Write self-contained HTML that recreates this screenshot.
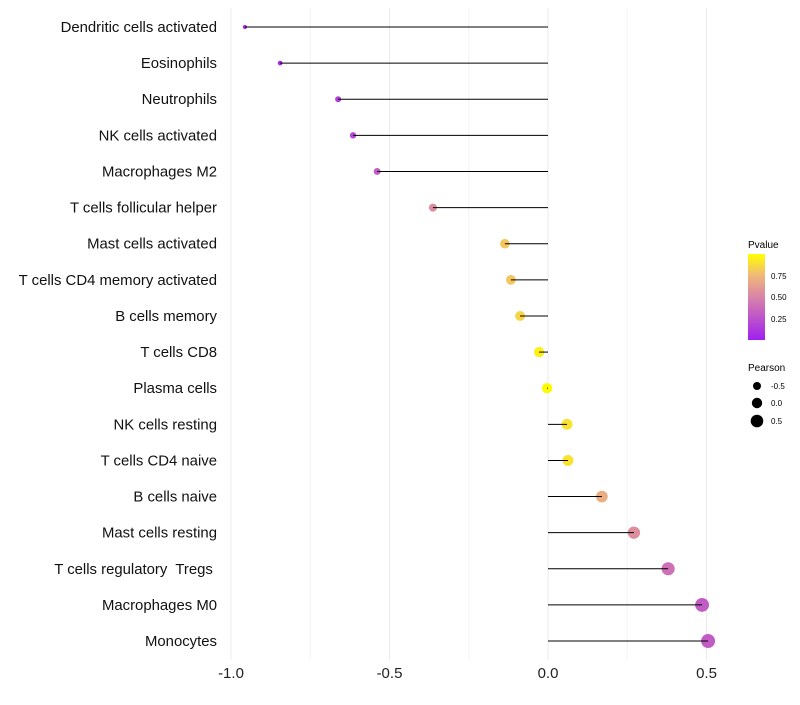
<!DOCTYPE html>
<html><head><meta charset="utf-8"><style>
body{margin:0;background:#fff;}
svg text{font-family:"Liberation Sans",sans-serif;white-space:pre;}
</style></head><body>
<svg id="c" width="800" height="700">
<defs><linearGradient id="pg" x1="0" y1="1" x2="0" y2="0">
<stop offset="0" stop-color="#a020f0"/><stop offset="0.5" stop-color="#d884a8"/><stop offset="0.75" stop-color="#f0b878"/><stop offset="1" stop-color="#ffff00"/></linearGradient></defs>
<g id="grid"></g><g id="dots"></g><g id="marks"></g><g id="labels"></g>
<g>
<text x="748" y="248" font-size="10">Pvalue</text>
<rect x="748" y="254" width="17" height="86" fill="url(#pg)"/>
<text x="771" y="279" font-size="8">0.75</text>
<text x="771" y="300" font-size="8">0.50</text>
<text x="771" y="322" font-size="8">0.25</text>
<text x="748" y="371" font-size="10">Pearson</text>
<circle cx="757" cy="386" r="4"/><text x="771" y="389" font-size="8">-0.5</text>
<circle cx="757" cy="403" r="5.2"/><text x="771" y="406" font-size="8">0.0</text>
<circle cx="757" cy="421" r="6.3"/><text x="771" y="424" font-size="8">0.5</text>
</g>
</svg>
<script>
const categories=["Dendritic cells activated","Eosinophils","Neutrophils","NK cells activated","Macrophages M2","T cells follicular helper","Mast cells activated","T cells CD4 memory activated","B cells memory","T cells CD8","Plasma cells","NK cells resting","T cells CD4 naive","B cells naive","Mast cells resting","T cells regulatory  Tregs ","Macrophages M0","Monocytes"];
const pearson=[-0.956,-0.845,-0.662,-0.615,-0.539,-0.363,-0.136,-0.117,-0.088,-0.028,-0.003,0.06,0.063,0.17,0.271,0.379,0.486,0.505];
const pvalue=[0.02,0.05,0.15,0.2,0.3,0.55,0.8,0.8,0.85,0.95,0.99,0.9,0.9,0.7,0.55,0.4,0.3,0.3];
const xticks=[-1.0,-0.5,0.0,0.5];
const xtickLabels=["-1.0","-0.5","0.0","0.5"];
const NS="http://www.w3.org/2000/svg";
const x=v=>548+v*317;
const y=i=>27+i*36.12;
function col(p){const st=[[0,160,32,240],[0.5,216,132,168],[0.75,240,184,120],[1,255,255,0]];
for(let k=1;k<st.length;k++){if(p<=st[k][0]){const a=st[k-1],b=st[k],t=(p-a[0])/(b[0]-a[0]);return `rgb(${[1,2,3].map(j=>Math.round(a[j]+(b[j]-a[j])*t)).join(',')})`;}}return 'rgb(255,255,0)';}
function mk(t,attrs,parent){const e=document.createElementNS(NS,t);for(const k in attrs)e.setAttribute(k,attrs[k]);document.getElementById(parent).appendChild(e);return e;}
for(let v=-1;v<=0.5001;v+=0.25){const l=mk('line',{x1:x(v),x2:x(v),y1:8,y2:660,stroke:Math.abs(v*2-Math.round(v*2))<0.01?'#ebebeb':'#f4f4f4','stroke-width':1},'grid');

}
xticks.forEach((v,i)=>{const t=mk('text',{x:x(v),y:678,'text-anchor':'middle','font-size':15,fill:'#222'},'labels');t.textContent=xtickLabels[i];

});
categories.forEach((c,i)=>{
const t=mk('text',{x:217,y:y(i)+5,'text-anchor':'end','font-size':14.9,fill:'#111'},'labels');t.textContent=c;


const l=mk('line',{x1:x(0),x2:x(pearson[i]),y1:y(i),y2:y(i),stroke:'#000','stroke-width':1},'marks');


const r=2+(pearson[i]+0.96)*3.4;
const d=mk('circle',{cx:x(pearson[i]),cy:y(i),r:r,fill:col(pvalue[i])},'dots');


});
</script>
</body></html>
